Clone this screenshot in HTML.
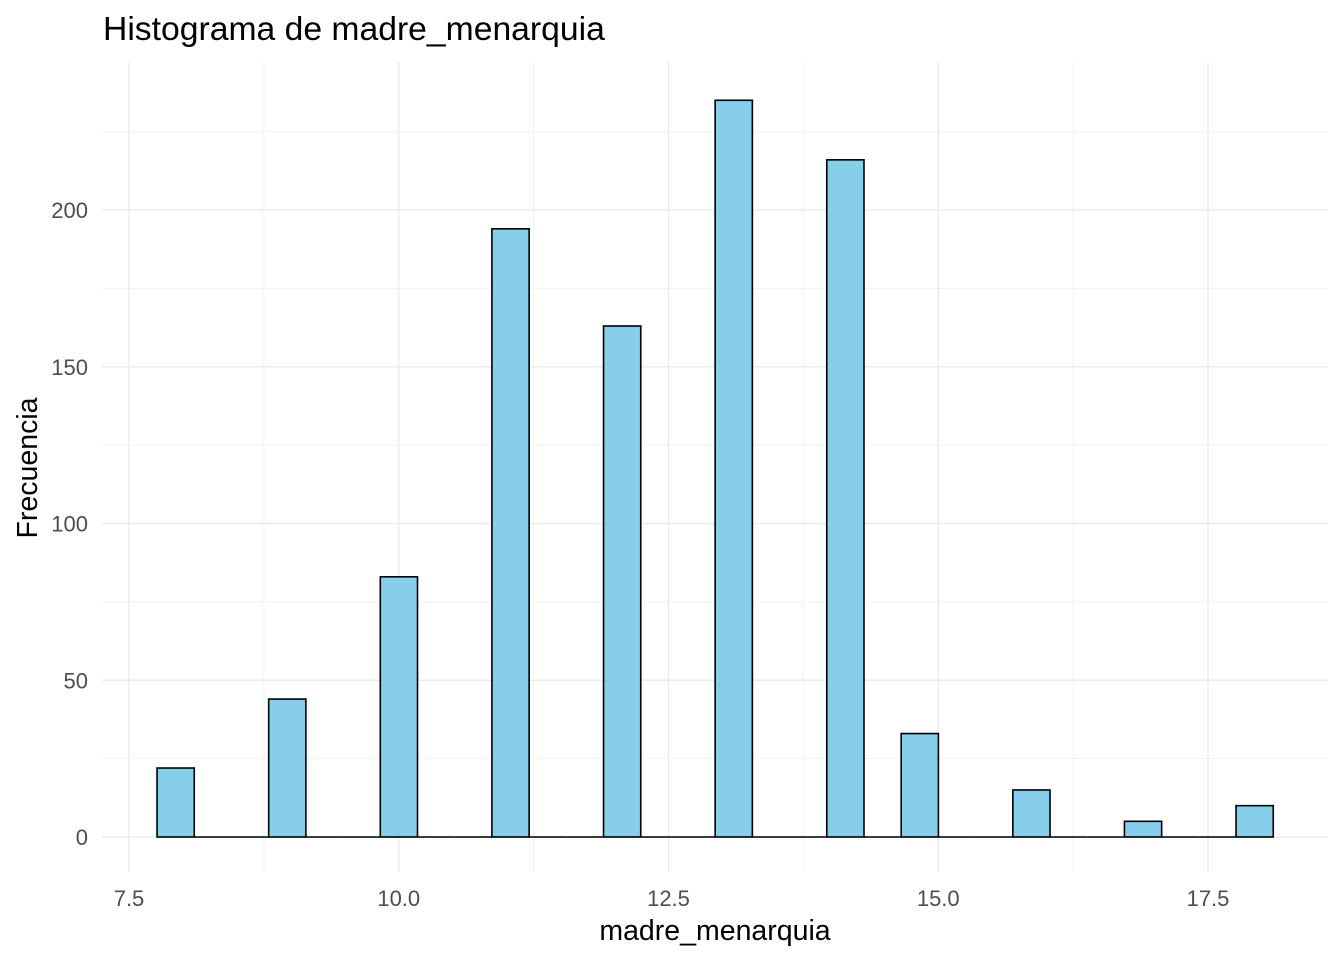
<!DOCTYPE html>
<html><head><meta charset="utf-8"><style>
body{margin:0;background:#fff;}
svg{display:block;font-family:"Liberation Sans",Arial,sans-serif;}
</style></head><body>
<svg id="chart" width="1344" height="960">
<g id="grid"></g>
<g id="bars"></g>
<g id="axes"></g>
<text x="103" y="40" style="font-size:33.7px" fill="#000">Histograma de madre_menarquia</text>
<text x="715" y="940" style="font-size:28.5px" text-anchor="middle" fill="#000">madre_menarquia</text>
<text transform="translate(37,468) rotate(-90)" style="font-size:28.5px" text-anchor="middle" fill="#000">Frecuencia</text>
</svg>
<script>
const binStart = 7.76;
const binWidth = 10/29;
const counts = [22,0,0,44,0,0,83,0,0,194,0,0,163,0,0,235,0,0,216,0,33,0,0,15,0,0,5,0,0,10];
const xTicks = [7.5,10.0,12.5,15.0,17.5];
const xTickLabels = ["7.5","10.0","12.5","15.0","17.5"];
const yTicks = [0,50,100,150,200];
const yTickLabels = ["0","50","100","150","200"];
const ns="http://www.w3.org/2000/svg";
const X = v => 129 + (v-7.5)*107.9;
const Y = v => 837 - v*3.135;
const L=102,R=1328,T=62,B=872;
const grid=document.getElementById('grid'), bars=document.getElementById('bars'), axes=document.getElementById('axes');
function mk(tag,attrs,parent){const e=document.createElementNS(ns,tag);for(const k in attrs)e.setAttribute(k,attrs[k]);parent.appendChild(e);return e;}
for(let i=0;i<xTicks.length-1;i++){const v=(xTicks[i]+xTicks[i+1])/2;
 const l=mk('line',{x1:X(v),x2:X(v),y1:T,y2:B,stroke:'#f2f2f2','stroke-width':1},grid);
 
 }
for(let i=0;i<yTicks.length;i++){const v=yTicks[i]+25;
 const l=mk('line',{x1:L,x2:R,y1:Y(v),y2:Y(v),stroke:'#f2f2f2','stroke-width':1},grid);
 
 }
xTicks.forEach((v,i)=>{
 const l=mk('line',{x1:X(v),x2:X(v),y1:T,y2:B,stroke:'#ebebeb','stroke-width':1.4},grid);
 
 
 const t=mk('text',{x:X(v),y:906,style:'font-size:22px','text-anchor':'middle',fill:'#4d4d4d'},axes);
 t.textContent=xTickLabels[i];
 
 
});
yTicks.forEach((v,i)=>{
 const l=mk('line',{x1:L,x2:R,y1:Y(v),y2:Y(v),stroke:'#ebebeb','stroke-width':1.4},grid);
 
 
 const t=mk('text',{x:88,y:Y(v)+8,style:'font-size:22px','text-anchor':'end',fill:'#4d4d4d'},axes);
 t.textContent=yTickLabels[i];
 
 
});
counts.forEach((c,k)=>{
 const x0=X(binStart+k*binWidth), x1=X(binStart+(k+1)*binWidth);
 if(c>0){
  const r=mk('rect',{x:x0,y:Y(c),width:x1-x0,height:Y(0)-Y(c),fill:'#87ceeb',stroke:'#000','stroke-width':1.6},bars);
  
  
 } else {
  const r=mk('line',{x1:x0,x2:x1,y1:Y(0),y2:Y(0),stroke:'#000','stroke-width':1.6},bars);
  
  
 }
});
</script>
</body></html>
